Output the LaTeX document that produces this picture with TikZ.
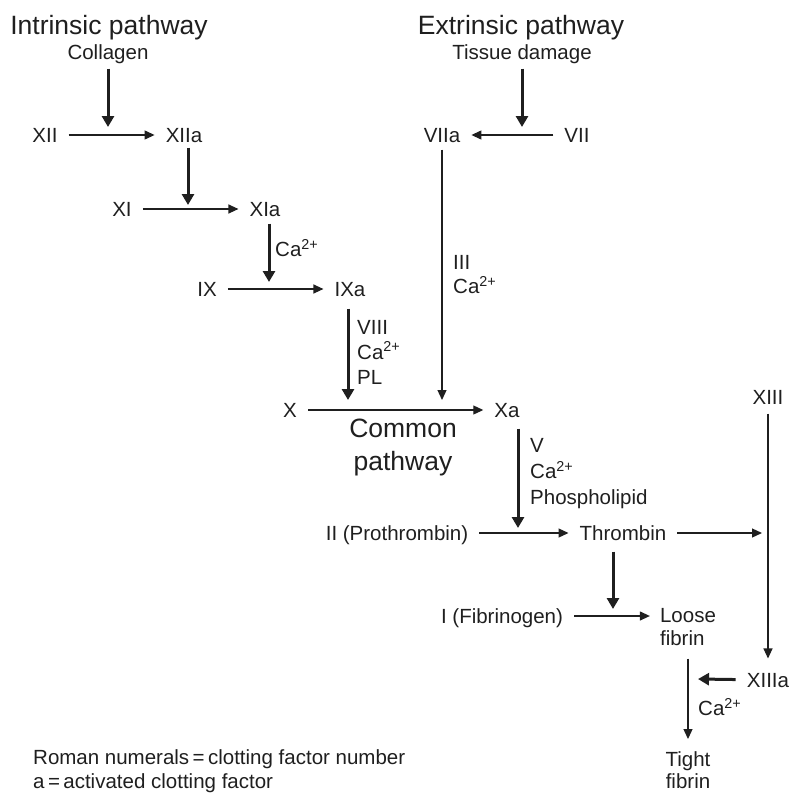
\documentclass[tikz,border=0pt]{standalone}
\usepackage{fontspec}
\setmainfont{Liberation Sans}
\usepackage{xcolor}
\usetikzlibrary{calc,positioning,arrows.meta}

\newcommand{\fsmall}{\fontsize{20.5}{24}\selectfont}
\newcommand{\fbig}{\fontsize{26.5}{33}\selectfont}
\newcommand{\caion}{Ca\textsuperscript{2+}}

\begin{document}
\begin{tikzpicture}[x=1pt, y=-1pt, >=Triangle,
    fac/.style={font=\fsmall, text=black!88, inner xsep=11pt, inner ysep=7pt, text height=14.7pt, text depth=0pt},
    cofac/.style={font=\fsmall, text=black!88, inner sep=0pt, align=left, anchor=west},
    title/.style={font=\fbig, text=black!88, inner sep=0pt, align=center},
    thin arrow/.style={draw=black!88, line width=1.2pt, -{Triangle[length=10pt, width=9pt]}},
    heavy arrow/.style={draw=black!88, line width=3pt, -{Triangle[length=11pt, width=12pt]}}]

    \useasboundingbox (0,0) rectangle (790,793);

    % intrinsic pathway
    \node [title] at (109,28) (intr) {Intrinsic pathway};
    \node [fac] at (108,52) (collagen) {Collagen};
    \node [fac] at (45,135) (xii) {XII};
    \node [fac] at (184,135) (xiia) {XIIa};
    \node [fac] at (122,209) (xi) {XI};
    \node [fac] at (265,209) (xia) {XIa};
    \node [fac] at (207,289) (ix) {IX};
    \node [fac] at (350,289) (ixa) {IXa};

    % extrinsic pathway
    \node [title] at (521,28) (extr) {Extrinsic pathway};
    \node [fac] at (522,52) (tissue) {Tissue damage};
    \node [fac] at (577,135) (vii) {VII};
    \node [fac] at (442,135) (viia) {VIIa};

    % common pathway
    \node [fac] at (290,410) (x) {X};
    \node [fac] at (507,410) (xa) {Xa};
    \node [title] at (403,447) (common) {Common\\pathway};
    \node [fac] at (397,533) (ii) {II (Prothrombin)};
    \node [fac] at (623,533) (thr) {Thrombin};
    \node [fac] at (502,616) (fib) {I (Fibrinogen)};
    \node [font=\fsmall, text=black!88, align=left, inner sep=0pt] at (688,627) (loose) {Loose\\[-1.5pt]fibrin};
    \node [fac] at (768,397) (xiii) {XIII};
    \node [fac] at (768,680) (xiiia) {XIIIa};
    \node [font=\fsmall, text=black!88, align=center, inner sep=0pt] at (688,770) (tight) {Tight\\[-1.5pt]fibrin};

    % cofactors
    \node [cofac] at (275,248) (ca1) {\caion};
    \node [cofac] at (357,352) (cf2) {VIII\\[1pt]\caion\\[1pt]PL};
    \node [cofac] at (453,275) (cf3) {III\\[0pt]\caion};
    \node [cofac] at (530,474) (cf4) {V\\[2pt]\caion\\[2pt]Phospholipid};
    \node [cofac] at (698,707) (ca5) {\caion};

    % legend
    \node [cofac] at (33,771) (legend) {Roman numerals\,=\,clotting factor number\\a\,=\,activated clotting factor};

    % junction points
    \coordinate (j1) at (108,127);
    \coordinate (j2) at (188,205);
    \coordinate (j3) at (269,282);
    \coordinate (j4) at (348,400);
    \coordinate (j5) at (522,127);
    \coordinate (j6) at (442,400);
    \coordinate (j7) at (518,528);
    \coordinate (j8) at (762,533);
    \coordinate (j9) at (613,609);
    \coordinate (j10) at (698,679);

    \draw [heavy arrow] (collagen.south) ++(0,2) -- (j1);
    \draw [thin arrow] (xii) -- (xiia);
    \draw [heavy arrow] (xiia.south -| j2) ++(0,-2) -- (j2);
    \draw [thin arrow] (xi) -- (xia);
    \draw [heavy arrow] (xia.south -| j3) -- (j3);
    \draw [thin arrow] (ix) -- (ixa);
    \draw [heavy arrow] (ixa.south -| j4) ++(0,5) -- (j4);

    \draw [heavy arrow] (tissue.south) ++(0,2) -- (j5);
    \draw [thin arrow] (vii) -- (viia);
    \draw [thin arrow] (viia.south) -- (j6);

    \draw [thin arrow] (x) -- (xa);
    \draw [heavy arrow] (xa.south -| j7) ++(0,4) -- (j7);
    \draw [thin arrow] (ii) -- (thr);
    \draw [thin arrow] (thr) -- (j8);
    \draw [heavy arrow] (thr.south -| j9) ++(0,4) -- (j9);
    \draw [thin arrow, shorten >=10pt] (fib) -- (fib -| loose.west);
    \draw [thin arrow, shorten <=2pt, shorten >=7pt] (xiii) -- (xiiia);
    \draw [heavy arrow] (xiiia) -- (j10);
    \draw [thin arrow, shorten <=13pt, shorten >=12pt] (loose) -- (tight);
\end{tikzpicture}
\end{document}
